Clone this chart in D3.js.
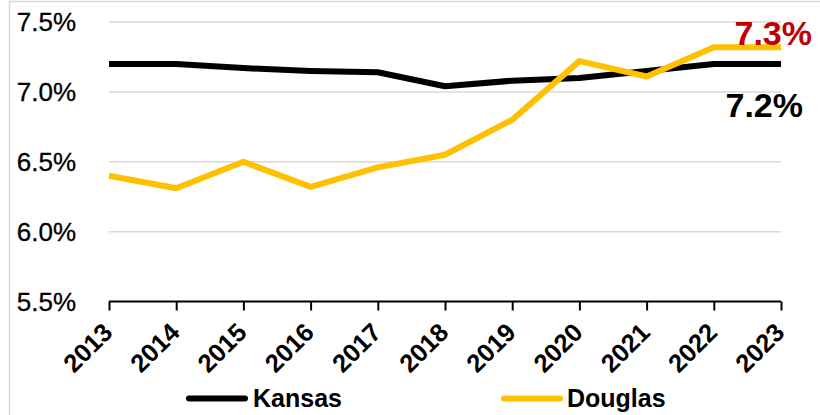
<!DOCTYPE html>
<html><head><meta charset="utf-8">
<script src="https://cdn.jsdelivr.net/npm/d3@7"></script>
<style>html,body{margin:0;padding:0;background:#fff;}svg{display:block;}</style>
</head><body>
<svg id="chart" width="820" height="415"></svg>
<script>
const years = ["2013","2014","2015","2016","2017","2018","2019","2020","2021","2022","2023"];
const kansas = [7.20, 7.20, 7.17, 7.15, 7.14, 7.04, 7.08, 7.10, 7.15, 7.20, 7.20];
const douglas = [6.40, 6.31, 6.50, 6.32, 6.46, 6.55, 6.80, 7.22, 7.11, 7.32, 7.32];
const yTicks = [5.5, 6.0, 6.5, 7.0, 7.5];
const seriesNames = ["Kansas", "Douglas"];
const seriesColors = ["#000000", "#FFC000"];
const endLabels = ["7.2%", "7.3%"];
const endLabelColors = ["#000000", "#C00000"];

const svg = d3.select("#chart");
const FONT = "'Liberation Sans', Arial, sans-serif";

// frame
svg.append("rect").attr("x", 9.5).attr("y", 1.5).attr("width", 840).attr("height", 440)
  .attr("fill", "none").attr("stroke", "#d9d9d9").attr("stroke-width", 1.5);

const x = d3.scalePoint().domain(years).range([109, 781]);
const y = d3.scaleLinear().domain([5.5, 7.5]).range([301.5, 22]);

// gridlines
svg.append("g").selectAll("line").data(yTicks.filter(t => t > 5.5)).join("line")
  .attr("x1", 109).attr("x2", 781)
  .attr("y1", d => y(d)).attr("y2", d => y(d))
  .attr("stroke", "#d9d9d9").attr("stroke-width", 1.5);

// y labels
svg.append("g").selectAll("text").data(yTicks).join("text")
  .attr("x", 76).attr("y", d => y(d) + 9)
  .attr("text-anchor", "end")
  .attr("font-family", FONT).attr("font-size", 26).attr("fill", "#000")
  .attr("stroke", "#000").attr("stroke-width", 0.3)
  .text(d => d.toFixed(1) + "%");

// x axis
const xAxis = d3.axisBottom(x).tickSize(9).tickFormat("");
const gx = svg.append("g").attr("transform", "translate(0,301.5)").call(xAxis);
gx.select(".domain").attr("stroke", "#000").attr("stroke-width", 2).attr("d", "M109,0H781");
gx.selectAll(".tick line").attr("stroke", "#000").attr("stroke-width", 2);

svg.append("g").selectAll("text").data(years).join("text")
  .attr("transform", d => `translate(${x(d) + 5},334) rotate(-45)`)
  .attr("text-anchor", "end")
  .attr("font-family", FONT).attr("font-weight", "bold").attr("font-size", 25.5).attr("fill", "#000")
  .text(d => d);

// lines
const line = d3.line().x((d, i) => x(years[i])).y(d => y(d));
[kansas, douglas].forEach((s, k) => {
  svg.append("path").datum(s).attr("d", line)
    .attr("fill", "none").attr("stroke", seriesColors[k]).attr("stroke-width", 6)
    .attr("stroke-linejoin", "round").attr("stroke-linecap", "butt");
});

// end labels
const last = years[years.length - 1];
svg.append("text").attr("x", x(last) + 22).attr("y", y(kansas[kansas.length - 1]) + 53)
  .attr("text-anchor", "end").attr("font-family", FONT).attr("font-weight", "bold")
  .attr("font-size", 34).attr("fill", endLabelColors[0]).text(endLabels[0]);
svg.append("text").attr("x", x(last) + 31).attr("y", y(douglas[douglas.length - 1]) - 2)
  .attr("text-anchor", "end").attr("font-family", FONT).attr("font-weight", "bold")
  .attr("font-size", 34).attr("fill", endLabelColors[1]).text(endLabels[1]);

// legend
const legX = [186, 501];
seriesNames.forEach((n, k) => {
  svg.append("line").attr("x1", legX[k] + 3).attr("x2", legX[k] + 59)
    .attr("y1", 398.5).attr("y2", 398.5)
    .attr("stroke", seriesColors[k]).attr("stroke-width", 6).attr("stroke-linecap", "round");
  svg.append("text").attr("x", legX[k] + (k === 0 ? 67 : 66)).attr("y", 407)
    .attr("font-family", FONT).attr("font-weight", "bold").attr("font-size", 25).attr("fill", "#000")
    .text(n);
});
</script>
</body></html>
